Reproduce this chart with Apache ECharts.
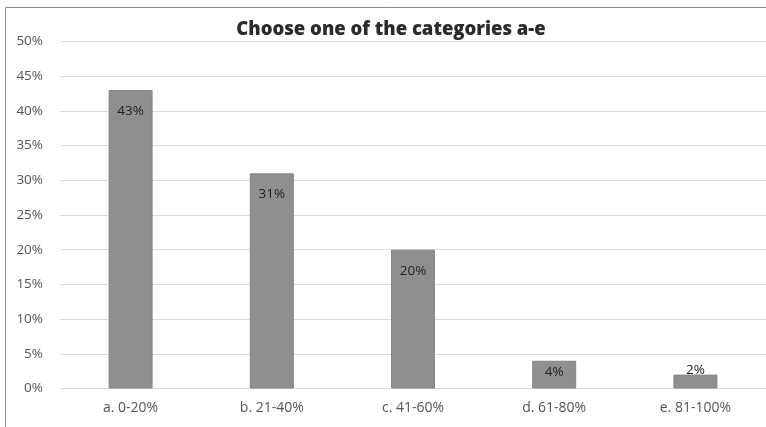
<!DOCTYPE html>
<html><head><meta charset="utf-8">
<script src="https://cdn.jsdelivr.net/npm/echarts@6/dist/echarts.min.js"></script>
<style>html,body{margin:0;padding:0;background:#fff;overflow:hidden}#c{width:766px;height:427px}</style>
</head><body><div id="c"></div>
<script>
const titleText = "Choose one of the categories a-e";
const categories = ["a. 0-20%", "b. 21-40%", "c. 41-60%", "d. 61-80%", "e. 81-100%"];
const values = [43, 31, 20, 4, 2];
const yTicks = [0, 5, 10, 15, 20, 25, 30, 35, 40, 45, 50];

const chart = echarts.init(document.getElementById('c'), null, {renderer: 'canvas'});
const font = "'Open Sans', sans-serif";
const data = values.map((v, i) => {
  const item = {value: v};
  if (v < 3) item.label = {position: 'top', distance: -3};
  else if (v < 6) item.label = {distance: 4};
  return item;
});
chart.setOption({
  animation: false,
  title: {
    text: titleText, left: 386, top: 15, textAlign: 'center',
    textStyle: {fontFamily: font, fontWeight: 800, fontSize: 18.5, color: '#2b2b2b'}
  },
  graphic: [
    {type: 'line', shape: {x1: 5.5, y1: 7.5, x2: 766, y2: 7.5},
      style: {stroke: '#8a8a8a', lineWidth: 1}, silent: true},
    {type: 'line', shape: {x1: 5.5, y1: 7.5, x2: 5.5, y2: 427},
      style: {stroke: '#8a8a8a', lineWidth: 1}, silent: true}
  ],
  grid: {left: 60, top: 41.5, width: 707, height: 347},
  xAxis: {
    type: 'category', data: categories,
    axisLine: {show: true, lineStyle: {color: '#d9d9d9', width: 1}},
    axisTick: {show: false},
    axisLabel: {color: '#555', fontFamily: font, fontSize: 14, margin: 13}
  },
  yAxis: {
    type: 'value', min: yTicks[0], max: yTicks[yTicks.length - 1], interval: 5,
    axisLine: {show: false}, axisTick: {show: false},
    splitLine: {lineStyle: {color: '#dcdcdc', width: 1}},
    axisLabel: {color: '#555', fontFamily: font, fontSize: 13.5, margin: 17,
      formatter: v => v + '%'}
  },
  series: [{
    type: 'bar', data: data, barWidth: 44,
    itemStyle: {color: '#8f8f8f', borderColor: '#858585', borderWidth: 1},
    label: {show: true, position: 'insideTop', distance: 14, color: '#222',
      fontFamily: font, fontSize: 13.5, formatter: p => p.value + '%'}
  }]
});
</script></body></html>
